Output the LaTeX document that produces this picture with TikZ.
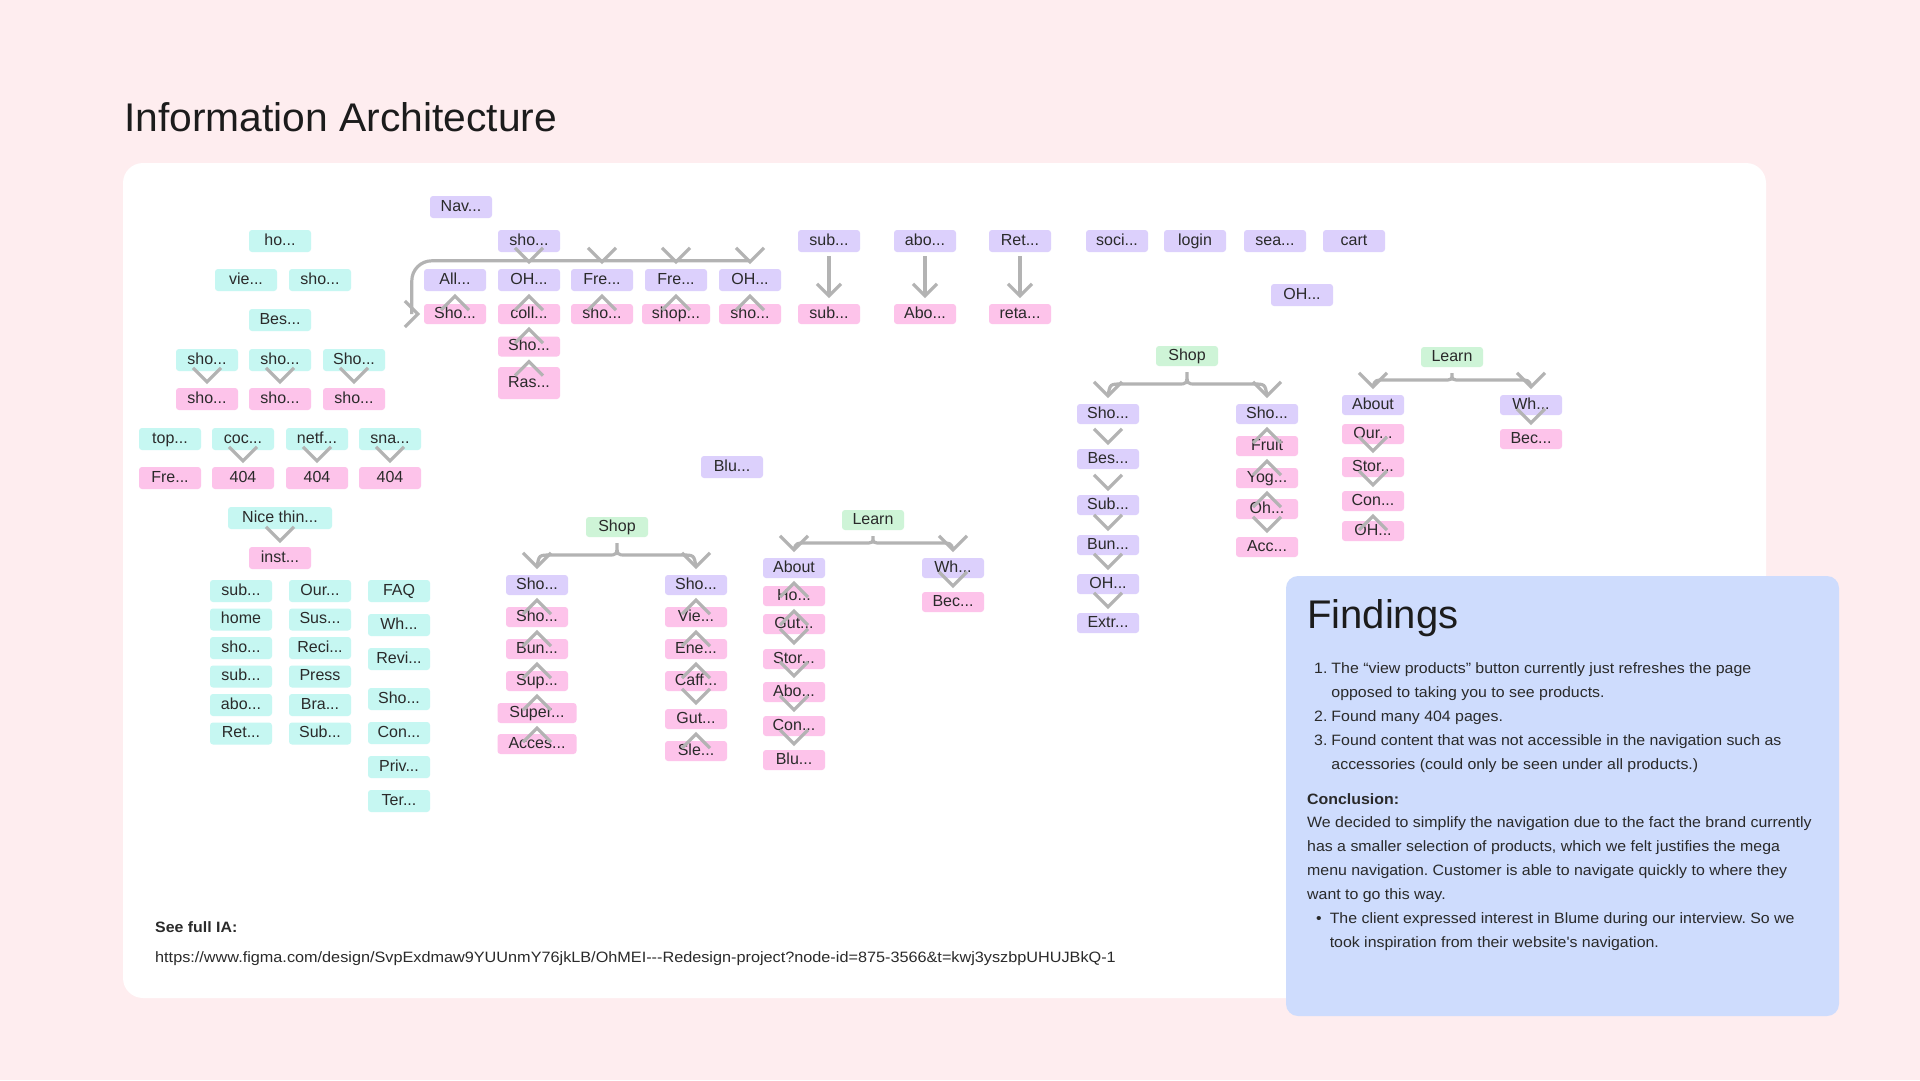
\documentclass[tikz,border=0pt]{standalone}
\usepackage{fontspec}
\setmainfont{Liberation Sans}
\newfontfamily\bodyfont{Liberation Sans}[FakeStretch=1.06]
\newfontfamily\urlfont{Liberation Sans}[FakeStretch=1.083]
\newfontfamily\titlefont{Liberation Sans}[FakeStretch=1.02]
\frenchspacing
\usetikzlibrary{calc}
\definecolor{bgpink}{HTML}{FEEDEF}
\definecolor{cyanb}{HTML}{C6F7F2}
\definecolor{lavb}{HTML}{DCD0FC}
\definecolor{pinkb}{HTML}{FDC3EA}
\definecolor{greenb}{HTML}{CEF4D7}
\definecolor{findb}{HTML}{CEDCFD}
\definecolor{chevgray}{HTML}{B3B3B3}
\definecolor{txt}{HTML}{2A2A2A}
\definecolor{ttl}{HTML}{1C1C1C}
\newcommand\chD[1]{\draw[chev] ($(#1.north)+(-14,-20)$) -- ($(#1.north)+(0,-6)$) -- ($(#1.north)+(14,-20)$);}
\newcommand\chU[1]{\draw[chev] ($(#1.south)+(-14,19)$) -- ($(#1.south)+(0,5)$) -- ($(#1.south)+(14,19)$);}
\newcommand\chL[1]{\draw[chev] ($(#1.north)+(-14,-21)$) -- ($(#1.north)+(0,-7)$) -- ($(#1.north)+(14,-21)$);}
\newcommand\arrdn[2]{\draw[chev] ($(#1.south)+(0,4)$) -- ($(#2.north)+(0,-8)$);
  \draw[chev] ($(#2.north)+(-12,-20)$) -- ($(#2.north)+(0,-8)$) -- ($(#2.north)+(12,-20)$);}
\newcommand\brc[3]{%
  \coordinate (bC) at ($(#1.south)+(0,6)$);
  \coordinate (bL) at ($(#2.north)+(0,-8)$);
  \coordinate (bR) at ($(#3.north)+(0,-8)$);
  \coordinate (bH) at ($(bC)!0.5!(bL)$);
  \draw[chev] (bL) .. controls ($(bL|-bH)+(2,0)$) .. ($(bL|-bH)+(14,0)$) -- ($(bC|-bH)+(-9,0)$) .. controls (bC|-bH) .. (bC) .. controls (bC|-bH) .. ($(bC|-bH)+(9,0)$) -- ($(bR|-bH)+(-14,0)$) .. controls ($(bR|-bH)+(-2,0)$) .. (bR);
  \draw[chev] ($(bL)+(-14,-14)$) -- (bL) -- ($(bL)+(14,-14)$);
  \draw[chev] ($(bR)+(-14,-14)$) -- (bR) -- ($(bR)+(14,-14)$);}
\begin{document}
\begin{tikzpicture}[x=1pt,y=-1pt,
  box/.style={rectangle, rounded corners=3pt, minimum width=62pt, minimum height=20pt, inner sep=0pt,
    text=txt, font=\fontsize{16}{16}\selectfont, text height=11.5pt, text depth=3.5pt},
  cy/.style={box, fill=cyanb, minimum height=22pt},
  lv/.style={box, fill=lavb},
  pk/.style={box, fill=pinkb},
  gr/.style={box, fill=greenb},
  hi/.style={minimum height=22pt},
  chev/.style={draw=chevgray, line width=3.2pt, line join=miter},
  body/.style={inner sep=0pt, text=txt, font=\bodyfont\fontsize{15}{24}\selectfont}]
\useasboundingbox (0,0) rectangle (1920,1080);
\fill[bgpink] (0,0) rectangle (1920,1080);
\fill[white, rounded corners=20pt] (123,163) rectangle (1766,998);
\node[anchor=base west, inner sep=0pt, text=ttl, font=\titlefont\fontsize{40}{40}\selectfont] (title) at (124,131) {Information Architecture};

% ---------- left cluster ----------
\node[cy] (ho) at (280,241) {ho...};
\node[cy] (vie) at (246,280) {vie...};
\node[cy] (shoa) at (320,280) {sho...};
\node[cy] (bes) at (280,320) {Bes...};
\node[cy] (c1) at (207,360) {sho...};
\node[cy] (c2) at (280,360) {sho...};
\node[cy] (c3) at (354,360) {Sho...};
\node[pk,hi] (p1) at (207,399) {sho...};
\node[pk,hi] (p2) at (280,399) {sho...};
\node[pk,hi] (p3) at (354,399) {sho...};
\node[cy] (top) at (170,439) {top...};
\node[cy] (coc) at (243,439) {coc...};
\node[cy] (netf) at (317,439) {netf...};
\node[cy] (sna) at (390,439) {sna...};
\node[pk,hi] (fre) at (170,478) {Fre...};
\node[pk,hi] (e1) at (243,478) {404};
\node[pk,hi] (e2) at (317,478) {404};
\node[pk,hi] (e3) at (390,478) {404};
\node[cy, minimum width=104pt] (nice) at (280,518) {Nice thin...};
\node[pk,hi] (inst) at (280,558) {inst...};
\node[cy] (a1) at (241,591) {sub...};
\node[cy] (a2) at (241,619.5) {home};
\node[cy] (a3) at (241,648) {sho...};
\node[cy] (a4) at (241,676.5) {sub...};
\node[cy] (a5) at (241,705) {abo...};
\node[cy] (a6) at (241,733.5) {Ret...};
\node[cy] (b1) at (320,591) {Our...};
\node[cy] (b2) at (320,619.5) {Sus...};
\node[cy] (b3) at (320,648) {Reci...};
\node[cy] (b4) at (320,676.5) {Press};
\node[cy] (b5) at (320,705) {Bra...};
\node[cy] (b6) at (320,733.5) {Sub...};
\node[cy] (f1) at (399,591) {FAQ};
\node[cy] (f2) at (399,625) {Wh...};
\node[cy] (f3) at (399,659) {Revi...};
\node[cy] (f4) at (399,699) {Sho...};
\node[cy] (f5) at (399,733) {Con...};
\node[cy] (f6) at (399,767) {Priv...};
\node[cy] (f7) at (399,801) {Ter...};
\chD{p1}\chD{p2}\chD{p3}
\chD{e1}\chD{e2}\chD{e3}
\chD{inst}

% ---------- top navigation ----------
\node[lv,hi] (nav) at (461,207) {Nav...};
\node[lv,hi] (shoT) at (529,241) {sho...};
\node[lv,hi] (all) at (455,280) {All...};
\node[lv,hi] (oh1) at (529,280) {OH...};
\node[lv,hi] (fre1) at (602,280) {Fre...};
\node[lv,hi] (fre2) at (676,280) {Fre...};
\node[lv,hi] (oh2) at (750,280) {OH...};
\node[pk] (shoP) at (455,314) {Sho...};
\node[pk] (coll) at (529,314) {coll...};
\node[pk] (shoP2) at (602,314) {sho...};
\node[pk, minimum width=68pt] (shopP) at (676,314) {shop...};
\node[pk] (shoP3) at (750,314) {sho...};
\node[pk] (shoP4) at (529,346.5) {Sho...};
\node[pk, minimum height=32pt] (ras) at (529,383) {Ras...};
\coordinate (lpA) at ($(oh2.north)+(0,-8)$);
\coordinate (lpB) at ($(shoP.west)+(-12,0)$);
\draw[chev, rounded corners=20pt] (lpA) -| (lpB);
\draw[chev] ($(shoP.west)+(-19,-13)$) -- ($(shoP.west)+(-6,0)$) -- ($(shoP.west)+(-19,13)$);
\chL{oh1}\chL{fre1}\chL{fre2}\chL{oh2}
\chU{all}\chU{oh1}\chU{fre1}\chU{fre2}\chU{oh2}\chU{coll}\chU{shoP4}

\node[lv,hi] (sub) at (829,241) {sub...};
\node[lv,hi] (abo) at (925,241) {abo...};
\node[lv,hi] (ret) at (1020,241) {Ret...};
\node[lv,hi] (soci) at (1117,241) {soci...};
\node[lv,hi] (login) at (1195,241) {login};
\node[lv,hi] (sea) at (1275,241) {sea...};
\node[lv,hi] (cart) at (1354,241) {cart};
\node[lv,hi] (ohR) at (1302,295) {OH...};
\node[pk] (subP) at (829,314) {sub...};
\node[pk] (aboP) at (925,314) {Abo...};
\node[pk] (reta) at (1020,314) {reta...};
\arrdn{sub}{subP}\arrdn{abo}{aboP}\arrdn{ret}{reta}

% ---------- middle cluster ----------
\node[lv,hi] (blu) at (732,467) {Blu...};
\node[gr] (shop1) at (617,527) {Shop};
\node[lv] (m1) at (537,585) {Sho...};
\node[pk] (m2) at (537,617) {Sho...};
\node[pk] (m3) at (537,649) {Bun...};
\node[pk] (m4) at (537,681) {Sup...};
\node[pk, minimum width=79pt] (m5) at (537,713) {Super...};
\node[pk, minimum width=79pt] (m6) at (537,744) {Acces...};
\node[lv] (n1) at (696,585) {Sho...};
\node[pk] (n2) at (696,617) {Vie...};
\node[pk] (n3) at (696,649) {Ene...};
\node[pk] (n4) at (696,681) {Caff...};
\node[pk] (n5) at (696,719) {Gut...};
\node[pk] (n6) at (696,751) {Sle...};
\brc{shop1}{m1}{n1}
\chU{m1}\chU{m2}\chU{m3}\chU{m4}\chU{m5}
\chU{n1}\chU{n2}\chU{n3}\chD{n5}\chU{n5}

\node[gr] (learn1) at (873,520) {Learn};
\node[lv] (ab1) at (794,568) {About};
\node[pk] (ab2) at (794,596) {Ho...};
\node[pk] (ab3) at (794,624) {Gut...};
\node[pk] (ab4) at (794,659) {Stor...};
\node[pk] (ab5) at (794,692) {Abo...};
\node[pk] (ab6) at (794,726) {Con...};
\node[pk] (ab7) at (794,760) {Blu...};
\node[lv] (wh1) at (953,568) {Wh...};
\node[pk] (bec1) at (953,602) {Bec...};
\brc{learn1}{ab1}{wh1}
\chU{ab1}\chU{ab2}\chD{ab4}\chD{ab5}\chD{ab6}\chD{ab7}
\chD{bec1}

% ---------- right cluster ----------
\node[gr] (shop2) at (1187,356) {Shop};
\node[lv] (r1) at (1108,414) {Sho...};
\node[lv] (r2) at (1108,459) {Bes...};
\node[lv] (r3) at (1108,505) {Sub...};
\node[lv] (r4) at (1108,545) {Bun...};
\node[lv] (r5) at (1108,584) {OH...};
\node[lv] (r6) at (1108,623) {Extr...};
\node[lv] (q1) at (1267,414) {Sho...};
\node[pk] (q2) at (1267,446) {Fruit};
\node[pk] (q3) at (1267,478) {Yog...};
\node[pk] (q4) at (1267,509) {Oh...};
\node[pk] (q5) at (1267,547) {Acc...};
\brc{shop2}{r1}{q1}
\chD{r2}\chD{r3}\chD{r4}\chD{r5}\chD{r6}
\chU{q1}\chU{q2}\chU{q3}\chD{q5}

\node[gr] (learn2) at (1452,357) {Learn};
\node[lv] (t1) at (1373,405) {About};
\node[pk] (t2) at (1373,434) {Our...};
\node[pk] (t3) at (1373,467) {Stor...};
\node[pk] (t4) at (1373,501) {Con...};
\node[pk] (t5) at (1373,531) {OH...};
\node[lv] (wh2) at (1531,405) {Wh...};
\node[pk] (bec2) at (1531,439) {Bec...};
\brc{learn2}{t1}{wh2}
\chD{t3}\chD{t4}\chU{t4}
\chD{bec2}

% ---------- footer link ----------
\node[anchor=base west, body, font=\bodyfont\fontsize{15}{24}\selectfont\bfseries] (see) at (155,932) {See full IA:};
\node[anchor=base west, body, font=\urlfont\fontsize{15}{24}\selectfont] (url) at (155,962) {https://www.figma.com/design/SvpExdmaw9YUUnmY76jkLB/OhMEI-{}-{}-Redesign-project?node-id=875-3566\&t=kwj3yszbpUHUJBkQ-1};

% ---------- findings ----------
\fill[findb, rounded corners=12pt] (1286,576) rectangle (1839,1016);
\node[anchor=base west, inner sep=0pt, text=ttl, font=\fontsize{40}{40}\selectfont] (find) at (1307,628) {Findings};
\node[anchor=base west, body] (lst) at (1314,673) {\begin{tabular}[t]{@{}l@{\hspace{4pt}}l@{}}1.&The “view products” button currently just refreshes the page\\&opposed to taking you to see products.\\2.&Found many 404 pages.\\3.&Found content that was not accessible in the navigation such as\\&accessories (could only be seen under all products.)\end{tabular}};
\node[anchor=base west, body, font=\bodyfont\fontsize{15}{24}\selectfont\bfseries] (conc) at (1307,804) {Conclusion:};
\node[anchor=base west, body] (para) at (1307,827) {\begin{tabular}[t]{@{}l@{}}We decided to simplify the navigation due to the fact the brand currently\\has a smaller selection of products, which we felt justifies the mega\\menu navigation. Customer is able to navigate quickly to where they\\want to go this way.\end{tabular}};
\node[anchor=base west, body] (bul) at (1316,923) {\begin{tabular}[t]{@{}l@{\hspace{8pt}}l@{}}•&The client expressed interest in Blume during our interview. So we\\&took inspiration from their website's navigation.\end{tabular}};
\end{tikzpicture}
\end{document}
